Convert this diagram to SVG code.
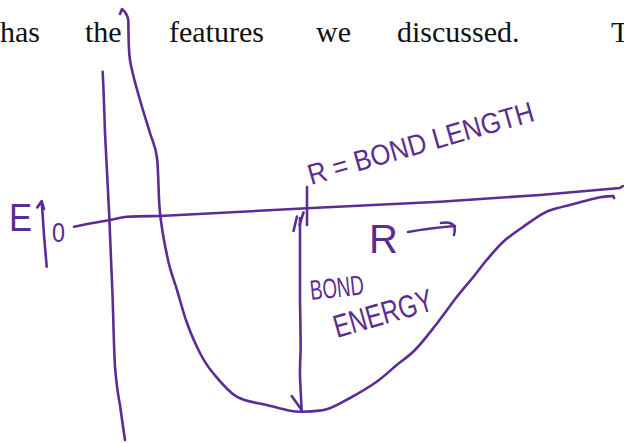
<svg xmlns="http://www.w3.org/2000/svg" width="624" height="443" viewBox="0 0 624 443">
<style>
.body{font-family:"Liberation Serif","Times New Roman",serif;font-size:30px;fill:#111}
.ink{fill:none;stroke:#5b2c91;stroke-width:2.6;stroke-linecap:round;stroke-linejoin:round}
.hand{font-family:"Liberation Sans",Arial,sans-serif;fill:#5b2c91}
</style>
<rect width="624" height="443" fill="#fff"/>
<g id="page-text">
<text class="body" x="0" y="42">has</text>
<text class="body" x="85" y="42">the</text>
<text class="body" x="169" y="42">features</text>
<text class="body" x="316" y="42">we</text>
<text class="body" x="397" y="42">discussed.</text>
<text class="body" x="611" y="42">T</text>
</g>
<g id="axes">
<path class="ink" d="M102.7,71.7 C104,100 104.5,115 105,133 C106.5,165 108,190 109.3,216.7 C110.5,245 111.5,272 112.7,300 C113.5,325 114,350 115,367 C116.5,385 118,395 120,405 C122,420 123.5,430 125,440"/>
<path class="ink" stroke-width="3.2" d="M74,226.7 C90,223.5 100,221.5 110,220 C118,218.5 122,217 126.7,216.7 C140,216.2 150,216.2 160,216 L306.7,208.3 L440,201.7 L540,195 L620,188 L623,186"/>
<path class="ink" stroke-width="4.5" d="M307,187 L307,225"/>
</g>
<g id="energy-curve">
<path class="ink" d="M120,14 L122,9 Q127,13 128.3,20 C128.6,26.7 128.05,46.67 130,60 C131.95,73.33 136.67,87.83 140,100 C143.33,112.17 147.17,123.33 150,133 C152.83,142.67 155.33,144.67 157,158 C158.67,171.33 158.17,196 160,213 C161.83,230 165.17,247.17 168,260 C170.83,272.83 173.83,279.5 177,290 C180.17,300.5 183.17,312.5 187,323 C190.83,333.5 195.67,344.67 200,353 C204.33,361.33 206.88,365.72 213,373 C219.12,380.28 227.75,391.37 236.7,396.7 C245.65,402.03 258.37,402.78 266.7,405 C275.03,407.22 280.87,408.88 286.7,410 C292.53,411.12 295.03,411.82 301.7,411.7 C308.37,411.58 318.65,411.58 326.7,409.3 C334.75,407.02 341.67,402.6 350,398 C358.33,393.4 368.92,387.2 376.7,381.7 C384.48,376.2 390.32,370.28 396.7,365 C403.08,359.72 408.62,356.5 415,350 C421.38,343.5 428.05,334.83 435,326 C441.95,317.17 450.32,305.17 456.7,297 C463.08,288.83 468.3,283.17 473.3,277 C478.3,270.83 481.7,265.88 486.7,260 C491.7,254.12 497.2,247.25 503.3,241.7 C509.4,236.15 516.63,231.43 523.3,226.7 C529.97,221.97 537.73,216.37 543.3,213.3 C548.87,210.23 550.58,210.13 556.7,208.3 C562.82,206.47 572.78,204.13 580,202.3 C587.22,200.47 594.45,198.35 600,197.3 C605.55,196.25 611.08,196.22 613.3,196 L614,198"/>
</g>
<g id="bond-energy-arrow">
<path class="ink" d="M300,218 L300,300 C300.5,330 300.8,345 300.6,350 C300.3,360 299.8,368 300,377 L301.7,411.7"/>
<path class="ink" d="M291.7,396 L301.7,410"/>
<path class="ink" d="M293.5,231 L297,216.5 M299.5,225 L303.5,212.5"/>
</g>
<g id="E-label">
<text class="hand" x="9" y="231" font-size="38" textLength="23" lengthAdjust="spacingAndGlyphs">E</text>
<path class="ink" d="M46.7,266.7 L44,235 L41.7,201.5 M37.3,207.5 L41.7,201 L44,209"/>
<text class="hand" x="52" y="242" font-size="27" textLength="13" lengthAdjust="spacingAndGlyphs">0</text>
</g>
<g id="bond-length-label">
<text class="hand" x="311" y="185" font-size="29" transform="rotate(-16 311 185)" textLength="234" lengthAdjust="spacingAndGlyphs">R = BOND LENGTH</text>
</g>
<g id="R-axis-label">
<text class="hand" x="369" y="253" font-size="40">R</text>
<path class="ink" d="M408,232 Q430,228 455,226 M441,223 Q458,220 454,235"/>
</g>
<g id="bond-energy-label">
<text class="hand" x="311" y="300" font-size="28" transform="rotate(-6 311 300)" textLength="54" lengthAdjust="spacingAndGlyphs">BOND</text>
<text class="hand" x="337" y="338" font-size="32" transform="rotate(-16 337 338)" textLength="102" lengthAdjust="spacingAndGlyphs">ENERGY</text>
</g>
</svg>
